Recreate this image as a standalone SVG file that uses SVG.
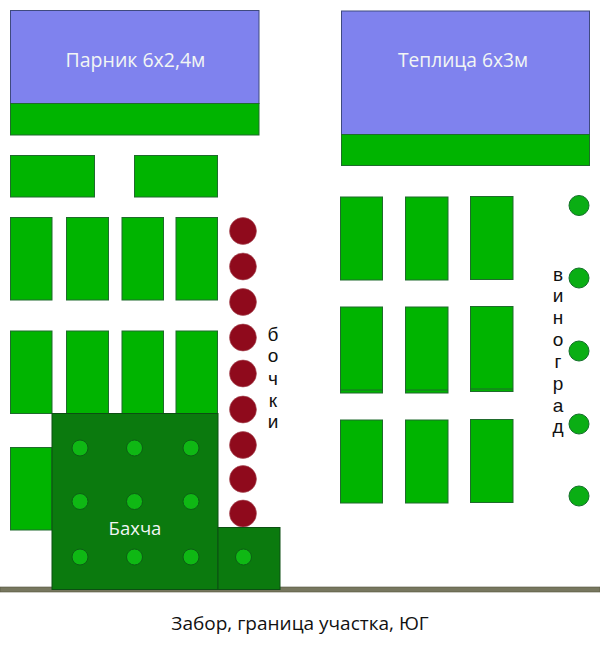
<svg xmlns="http://www.w3.org/2000/svg" width="600" height="662" viewBox="0 0 600 662">
<style>
.bed{fill:#00b400;stroke:#1f6b2c;stroke-width:1}
.glass{fill:#7f82ee;stroke:#3f4a80;stroke-width:1}
.melon{fill:#0b7a0e;stroke:#0c4f12;stroke-width:1}
.dot{fill:#0fb814;stroke:#0c5f14;stroke-width:1}
.barrel{fill:#8f0a1c;stroke:#a8505a;stroke-width:.6}
.grape{fill:#0aae14;stroke:#14702a;stroke-width:1}
text{font-family:"Open Sans","Noto Sans","Liberation Sans",sans-serif}
.w{fill:#f2f6f4;text-anchor:middle}
.k{fill:#111;font-size:19px;text-anchor:middle}
.v{fill:#111;font-family:"Liberation Sans",sans-serif;font-size:19px;text-anchor:middle}
</style>
<rect width="600" height="662" fill="#fff"/>
<g id="fence"><rect x="0" y="587" width="600" height="5" fill="#77775f" stroke="#55553f" stroke-width=".6"/></g>
<g id="parnik"><rect class="glass" x="10.500" y="10.500" width="248.500" height="93"/><rect class="bed" x="10.500" y="103.500" width="248.500" height="31.500"/><text class="w" font-size="19.500" x="135.500" y="67">Парник 6х2,4м</text></g>
<g id="teplitsa"><rect class="glass" x="341.500" y="11" width="248" height="123.500"/><rect class="bed" x="341.500" y="134.500" width="248" height="31"/><text class="w" font-size="19.200" x="463" y="67">Теплица 6х3м</text></g>
<g id="beds-left">
<rect class="bed" x="10.500" y="155.500" width="84" height="41.500"/>
<rect class="bed" x="134.500" y="155.500" width="83" height="41.500"/>
<rect class="bed" x="10.500" y="217.500" width="41.500" height="82.500"/>
<rect class="bed" x="66.500" y="217.500" width="42" height="82.500"/>
<rect class="bed" x="122" y="217.500" width="41.500" height="82.500"/>
<rect class="bed" x="176" y="217.500" width="41.500" height="82.500"/>
<rect class="bed" x="10.500" y="331" width="41.500" height="82.500"/>
<rect class="bed" x="66.500" y="331" width="42" height="82.500"/>
<rect class="bed" x="122" y="331" width="41.500" height="82.500"/>
<rect class="bed" x="176" y="331" width="41.500" height="82.500"/>
<rect class="bed" x="10.500" y="447.500" width="41.500" height="82.500"/>
</g>
<g id="beds-right">
<rect class="bed" x="340.500" y="197" width="42" height="83"/>
<rect class="bed" x="405.500" y="197" width="42.500" height="83"/>
<rect class="bed" x="470.500" y="196.500" width="42.500" height="83"/>
<rect class="bed" x="340.500" y="307" width="42" height="86"/><path d="M340.500 390H382.500" stroke="#1f6b2c" fill="none"/>
<rect class="bed" x="405.500" y="307" width="42.500" height="86"/><path d="M405.500 390H448" stroke="#1f6b2c" fill="none"/>
<rect class="bed" x="470.500" y="306.500" width="42.500" height="85"/><path d="M470.500 389H513" stroke="#1f6b2c" fill="none"/>
<rect class="bed" x="340.500" y="420" width="42" height="83"/>
<rect class="bed" x="405.500" y="420" width="42.500" height="83"/>
<rect class="bed" x="470.500" y="419.500" width="42.500" height="83"/>
</g>
<g id="barrels">
<circle class="barrel" cx="243" cy="231" r="13.500"/>
<circle class="barrel" cx="243" cy="266.500" r="13.500"/>
<circle class="barrel" cx="243" cy="302" r="13.500"/>
<circle class="barrel" cx="243" cy="337.500" r="13.500"/>
<circle class="barrel" cx="243" cy="373.500" r="13.500"/>
<circle class="barrel" cx="243" cy="409.500" r="13.500"/>
<circle class="barrel" cx="243" cy="445" r="13.500"/>
<circle class="barrel" cx="243" cy="479" r="13.500"/>
<circle class="barrel" cx="243" cy="513.500" r="13.500"/>
</g>
<g id="bakhcha">
<rect class="melon" x="52" y="413.500" width="166" height="176"/>
<circle class="dot" cx="80" cy="448" r="8"/><circle class="dot" cx="134.500" cy="448" r="8"/><circle class="dot" cx="191" cy="448" r="8"/>
<circle class="dot" cx="80" cy="501.500" r="8"/><circle class="dot" cx="134.500" cy="501.500" r="8"/><circle class="dot" cx="191" cy="501.500" r="8"/>
<circle class="dot" cx="80" cy="557" r="8"/><circle class="dot" cx="134.500" cy="557" r="8"/><circle class="dot" cx="191" cy="557" r="8"/>
<text class="w" font-size="18.500" x="135" y="535">Бахча</text>
</g>
<g id="bakhcha-small"><rect class="melon" x="218" y="527.500" width="62" height="62"/><circle class="dot" cx="243.500" cy="557" r="8"/></g>
<g id="grapes">
<circle class="grape" cx="579" cy="205.500" r="10"/>
<circle class="grape" cx="579" cy="278" r="10"/>
<circle class="grape" cx="579" cy="351" r="10"/>
<circle class="grape" cx="579" cy="424" r="10"/>
<circle class="grape" cx="579" cy="496" r="10"/>
</g>
<g id="labels">
<text class="v" x="273"><tspan x="273" y="341">б</tspan><tspan x="273" y="362">о</tspan><tspan x="273" y="385">ч</tspan><tspan x="273" y="407">к</tspan><tspan x="273" y="428">и</tspan></text>
<text class="v" x="558"><tspan x="558" y="281">в</tspan><tspan x="558" y="302">и</tspan><tspan x="558" y="324">н</tspan><tspan x="558" y="346">о</tspan><tspan x="558" y="368">г</tspan><tspan x="558" y="390">р</tspan><tspan x="558" y="412">а</tspan><tspan x="558" y="433">д</tspan></text>
<text class="k" x="300" y="630">Забор, граница участка, ЮГ</text>
</g>
</svg>
